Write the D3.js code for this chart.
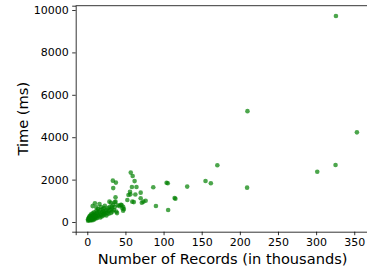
<!DOCTYPE html>
<html>
<head>
<meta charset="utf-8">
<script src="https://cdn.jsdelivr.net/npm/d3@7"></script>
<style>
  body { margin: 0; background: #fff; }
  text { font-family: "DejaVu Sans", sans-serif; fill: #000; }
</style>
</head>
<body>
<div class="container"></div>
<script>
'use strict'

// records (thousands) vs time (ms)
const records = [
  1, 1, 2, 2, 2, 3, 3, 3, 4, 4, 4, 5, 5, 5, 6, 6, 6, 7, 7, 7,
  8, 8, 8, 9, 9, 9, 10, 10, 10, 11, 11, 12, 12, 12, 13, 13, 14, 14, 15, 15,
  16, 16, 17, 17, 18, 18, 19, 19, 20, 20, 21, 21, 22, 22, 23, 23, 24, 25, 25, 26,
  27, 28, 28, 29, 29, 30, 31, 31, 32, 32, 33, 34, 35, 36, 36, 37, 37, 38, 39, 40,
  42, 44, 45, 46, 47, 47, 48, 33.5, 34, 37.5, 52.5, 54, 56, 57, 59.5, 62, 58.5, 64.5, 56.5, 63,
  70, 70, 71.5, 73.5, 59, 61, 76.5, 86.5, 90, 104, 105.5, 106, 114.5, 115.5, 131, 155, 162, 170.5, 209.5, 301.5,
  325.5, 210, 326, 353.5
]
const times = [
  60, 130, 90, 210, 160, 110, 270, 190, 70, 150, 310, 95, 230, 360, 130, 190, 270, 80, 410, 750,
  160, 230, 330, 120, 290, 460, 210, 880, 390, 170, 310, 260, 530, 690, 190, 430, 340, 610, 270, 490,
  850, 390, 210, 560, 330, 710, 460, 260, 610, 390, 510, 310, 430, 660, 770, 360, 490, 570, 310, 430,
  650, 510, 390, 710, 960, 570, 910, 430, 720, 630, 490, 810, 570, 930, 710, 1170, 960, 490, 420, 790,
  750, 810, 800, 650, 720, 530, 610, 1950, 1600, 1860, 1040, 1275, 1430, 2330, 2170, 1930, 1650, 1650, 1305, 1300,
  1385, 1120, 910, 960, 960, 940, 1005, 1640, 755, 1850, 1830, 570, 1130, 1100, 1670, 1935, 1825, 2680, 1620, 2370,
  2690, 5230, 9720, 4230
]

const xTicks = [0, 50, 100, 150, 200, 250, 300, 350]
const yTicks = [0, 2000, 4000, 6000, 8000, 10000]

const width = 367
const height = 272
const margin = { left: 75.7, top: 5.7, bottom: 40.3 }
const plotRight = 369.5

const svg = d3.select('.container').append('svg')
  .attr('width', width)
  .attr('height', height)

const x = d3.scaleLinear()
  .domain([-15.2, 370])
  .range([margin.left, plotRight])

const y = d3.scaleLinear()
  .domain([-457, 10203])
  .range([height - margin.bottom, margin.top])

const xAxis = d3.axisBottom(x).tickValues(xTicks).tickFormat(d3.format('d')).tickSize(3.5).tickPadding(3.5)
const yAxis = d3.axisLeft(y).tickValues(yTicks).tickFormat(d3.format('d')).tickSize(3.5).tickPadding(3.5)

const gX = svg.append('g')
  .attr('transform', `translate(0,${height - margin.bottom})`)
  .call(xAxis)

const gY = svg.append('g')
  .attr('transform', `translate(${margin.left},0)`)
  .call(yAxis)

for (const g of [gX, gY]) {
  g.selectAll('text').style('font-size', '11px').style('fill', '#000')
  g.selectAll('line').attr('stroke', '#000').attr('stroke-width', 0.8)
  g.select('.domain').attr('stroke', '#000').attr('stroke-width', 0.8)
}

// top spine
svg.append('line')
  .attr('x1', margin.left).attr('x2', plotRight)
  .attr('y1', margin.top).attr('y2', margin.top)
  .attr('stroke', '#000').attr('stroke-width', 0.8)

svg.append('g')
  .selectAll('circle')
  .data(records.map((r, i) => [r, times[i]]))
  .enter()
  .append('circle')
  .attr('cx', d => x(d[0]))
  .attr('cy', d => y(d[1]))
  .attr('r', 2.3)
  .style('fill', '#008000')
  .style('fill-opacity', 0.7)

svg.append('text')
  .attr('x', (margin.left + plotRight) / 2)
  .attr('y', 264)
  .attr('text-anchor', 'middle')
  .style('font-size', '14.6px')
  .text('Number of Records (in thousands)')

svg.append('text')
  .attr('transform', `translate(27.5,${(margin.top + height - margin.bottom) / 2}) rotate(-90)`)
  .attr('text-anchor', 'middle')
  .style('font-size', '14.6px')
  .text('Time (ms)')
</script>
</body>
</html>
